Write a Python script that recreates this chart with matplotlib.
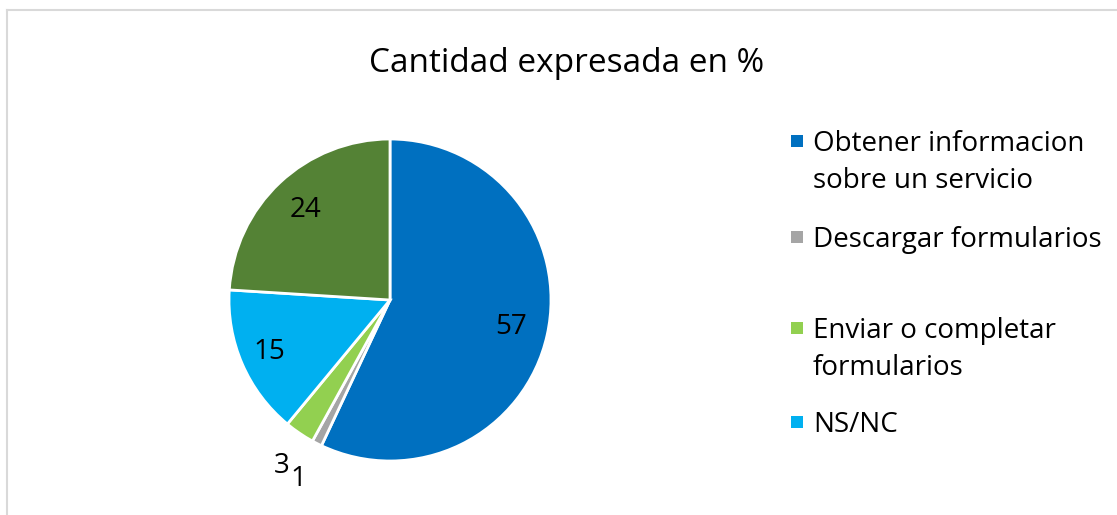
import matplotlib
matplotlib.use("Agg")
import matplotlib.pyplot as plt
from matplotlib.patches import Rectangle
import numpy as np

# --- Data ---
categories = ["Obtener informacion\nsobre un servicio", "Descargar formularios",
              "Enviar o completar\nformularios", "NS/NC", "Otros"]
values = [57, 1, 3, 15, 24]
colors = ["#0070C0", "#A5A5A5", "#92D050", "#00B0F0", "#548235"]
legend_count = 4  # the last category is not shown in the legend

W, H, DPI = 1117, 515, 100
plt.rcParams["font.family"] = ["Open Sans", "DejaVu Sans"]

fig = plt.figure(figsize=(W / DPI, H / DPI), dpi=DPI)

# chart frame (only top and left edges visible)
fig.add_artist(plt.Line2D([7 / W, 7 / W], [0, 1 - 10 / H], color="#D9D9D9", lw=1.5,
                          transform=fig.transFigure))
fig.add_artist(plt.Line2D([7 / W, 1], [1 - 10 / H, 1 - 10 / H], color="#D9D9D9", lw=1.5,
                          transform=fig.transFigure))

fig.text(567 / W, 1 - 63 / H, "Cantidad expresada en %", ha="center", va="center",
         fontsize=24, color="#000000")

# pie axes: center (390, 300), radius ~161 px
r = 161
ax = fig.add_axes([(390 - r) / W, 1 - (300 + r) / H, 2 * r / W, 2 * r / H])
wedges, _ = ax.pie(values, colors=colors, startangle=90, counterclock=False,
                   wedgeprops=dict(edgecolor="white", linewidth=2))
ax.set_xlim(-1, 1)
ax.set_ylim(-1, 1)
ax.set_aspect("equal")
ax.axis("off")

label_dist = [0.77, 1.25, 1.23, 0.82, 0.77]
label_shift = [0, 0, 1, 0, 0]
for w, v, d, s in zip(wedges, values, label_dist, label_shift):
    ang = np.deg2rad((w.theta1 + w.theta2) / 2 + s)
    ax.text(d * np.cos(ang), d * np.sin(ang), str(v), ha="center", va="center",
            fontsize=20, color="#000000", clip_on=False)

# legend
legend_y = [141, 237, 328, 422]
for lab, col, y in zip(categories[:legend_count], colors[:legend_count], legend_y):
    fig.add_artist(Rectangle((791 / W, 1 - (y + 6) / H), 12 / W, 12 / H,
                             facecolor=col, edgecolor="none", transform=fig.transFigure))
    fig.text(813 / W, 1 - (y - 11) / H, lab, ha="left", va="top", fontsize=20,
             linespacing=1.45, color="#000000")

fig.savefig("out.png", dpi=DPI, facecolor="white")
